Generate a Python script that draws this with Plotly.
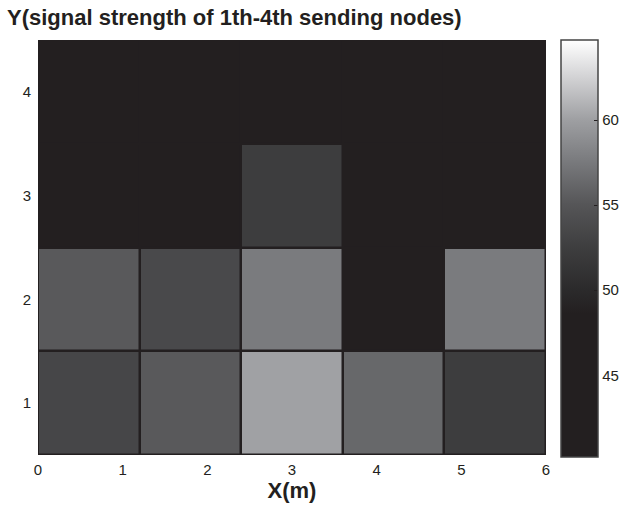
import plotly.graph_objects as go

# Data
x_centers = [0.6, 1.8, 3.0, 4.2, 5.4]          # 5 columns, each 1.2 m wide
y_nodes = [1, 2, 3, 4]                          # sending nodes 1..4
row1 = [53.4, 55.3, 60.1, 56.3, 52.4]
row2 = [55.3, 53.7, 57.6, 45.0, 57.6]
row3 = [44.0, 44.0, 52.4, 44.0, 44.0]
row4 = [43.0, 43.0, 43.0, 43.0, 43.0]
x_ticks = [0, 1, 2, 3, 4, 5, 6]
y_ticks = [1, 2, 3, 4]
cbar_ticks = [45, 50, 55, 60]
zmin, zmax = 40.2, 64.7

INK = "#231f20"
FONT = "Liberation Sans"

# colour stops (value, colour)
stops = [(40.2, INK), (48.6, INK), (50.0, "#2b2a2b"), (52.5, "#3e3e3f"),
         (55.0, "#555557"), (57.5, "#78797c"), (60.0, "#9e9fa2"),
         (62.5, "#d2d2d4"), (64.7, "#ffffff")]
colorscale = [[(v - zmin) / (zmax - zmin), c] for v, c in stops]

PW, PH = 508, 415  # plot area in pixels

fig = go.Figure(go.Heatmap(
    x=x_centers, y=y_nodes, z=[row1, row2, row3, row4],
    zmin=zmin, zmax=zmax, colorscale=colorscale,
    xgap=2.5, ygap=2.5, hoverinfo="skip",
    colorbar=dict(
        x=(561 - 38) / PW, xanchor="left", xpad=0, ypad=0,
        y=0.5 - 1 / PH, yanchor="middle",
        len=417, lenmode="pixels", thickness=37, thicknessmode="pixels",
        tickvals=cbar_ticks, ticks="inside", ticklen=4, tickcolor=INK,
        tickfont=dict(family=FONT, size=15, color=INK),
        outlinewidth=1.5, outlinecolor="#444",
    ),
))

fig.update_layout(
    width=619, height=510,
    margin=dict(l=38, r=73, t=40, b=55, autoexpand=False),
    paper_bgcolor="white", plot_bgcolor=INK,
    xaxis=dict(range=[0, 6], tickvals=x_ticks, ticks="", showgrid=False,
               zeroline=False, showline=False, ticklabelstandoff=4,
               tickfont=dict(family=FONT, size=15, color=INK),
               title=dict(text="<b>X(m)</b>", standoff=4,
                          font=dict(family=FONT, size=22, color=INK))),
    yaxis=dict(range=[0.5, 4.5], tickvals=y_ticks, ticks="", showgrid=False,
               zeroline=False, showline=False, ticklabelstandoff=6,
               tickfont=dict(family=FONT, size=15, color=INK)),
    annotations=[dict(text="<b>Y(signal strength of 1th-4th sending nodes)</b>",
                      xref="paper", yref="paper", x=0, y=1 + 22 / PH,
                      xanchor="left", yanchor="middle", showarrow=False,
                      xshift=-38 + 5,
                      font=dict(family=FONT, size=22, color=INK))],
)

fig.write_html("out.html",
               config={"displayModeBar": False},
               post_script="document.body.style.margin='0';"
                           "document.body.style.overflow='hidden';")
